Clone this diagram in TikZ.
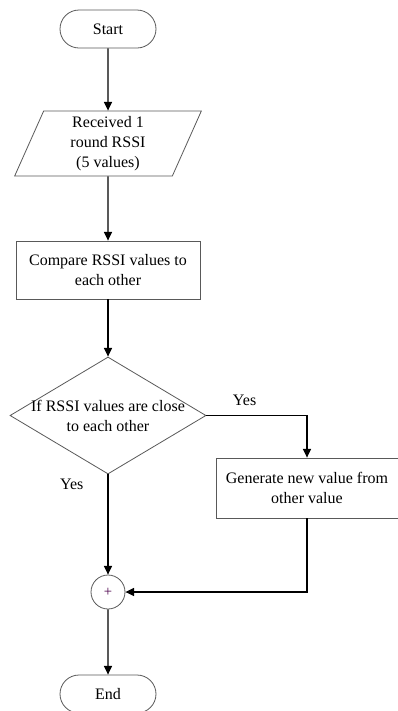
\documentclass[tikz,border=0pt]{standalone}
\usepackage{fontspec}
\setmainfont{Liberation Serif}
\usetikzlibrary{positioning, arrows.meta}
\usetikzlibrary{shapes.misc, shapes.geometric}

\tikzset{
	shapeline/.style={draw=black!65, line width=0.6pt, fill=white, font=\fontsize{12}{15}\selectfont, align=center, inner sep=0pt},
	terminal/.style={shapeline, rounded rectangle, minimum width=72pt, minimum height=28.5pt},
	inputbox/.style={shapeline, trapezium, trapezium left angle=62, trapezium right angle=118, trapezium stretches body, minimum width=140pt, minimum height=48.75pt},
	processbox/.style={shapeline, rectangle},
	decision/.style={shapeline, diamond, minimum width=147pt, minimum height=87.75pt},
	joinpoint/.style={shapeline, circle, minimum size=25.5pt},
	flow/.style={black, line width=0.9pt, -{Triangle[length=6.5pt,width=6pt]}},
	yeslabel/.style={font=\fontsize{12}{15}\selectfont, inner sep=0pt}
}

\begin{document}
\begin{tikzpicture}[x=0.75pt, y=-0.75pt]
	\useasboundingbox (0,0) rectangle (398,711);
	% Start
	\node[terminal] (start) at (108,29) {Start};
	% Received RSSI
	\node[inputbox] (recv) at (108,143.5) {Received 1\\round RSSI\\(5 values)};
	% Compare
	\node[processbox, minimum width=138pt, minimum height=43.5pt] (cmp) at (108,270) {Compare RSSI values to\\each other};
	% Decision
	\node[decision, label={[yeslabel, align=center]center:If RSSI values are close\\to each other}] (dec) at (108,415.5) {};
	% Generate new value
	\node[processbox, minimum width=136.5pt, minimum height=45pt] (gen) at (307,488) {Generate new value from\\other value};
	% Join
	\node[joinpoint] (sum) at (108,592) {\fontsize{11}{11}\selectfont\textcolor{violet!60!black}{+}};
	% End
	\node[terminal] (stop) at (108,694) {End};
	% Connectors
	\draw[flow] (start) -- (recv);
	\draw[flow] (recv) -- (cmp);
	\draw[flow] (cmp) -- (dec);
	\draw[flow] (dec.east) -| node[yeslabel, pos=0.19, above, yshift=7pt] {Yes} (gen.north);
	\draw[flow] (dec.south) -- node[yeslabel, pos=0.1, left, xshift=-18pt] {Yes} (sum.north);
	\draw[flow] (gen.south) |- (sum.east);
	\draw[flow] (sum) -- (stop);
\end{tikzpicture}
\end{document}
